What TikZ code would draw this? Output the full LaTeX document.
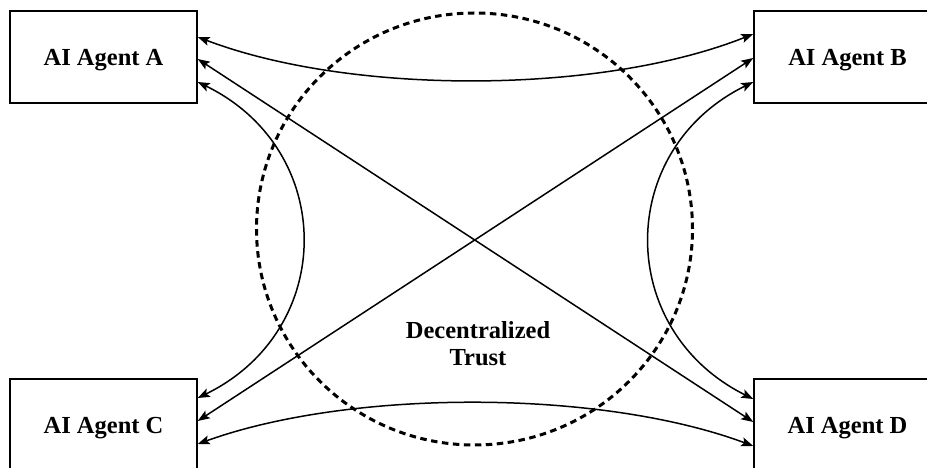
\documentclass[tikz,border=0pt]{standalone}
\usepackage{fontspec}
\setmainfont{Liberation Serif}
\usetikzlibrary{arrows.meta}
\begin{document}
\begin{tikzpicture}[x=1pt,y=1pt,
  agent/.style={draw, line width=1.5pt, minimum width=187pt, minimum height=92pt, inner sep=0pt,
    font=\bfseries\fontsize{24.5}{26.7}\selectfont, text height=17pt, text depth=0pt},
  link/.style={line width=1.5pt, {Stealth[length=12pt,width=9pt,inset=2.5pt]}-{Stealth[length=12pt,width=9pt,inset=2.5pt]}},
  trust/.style={draw, line width=3pt, dash pattern=on 6.5pt off 4.5pt}
]
\useasboundingbox (0,0) rectangle (927,468);
\clip (0,0) rectangle (927,468);
\fill[white] (0,0) rectangle (927,468);
% dashed trust circle
\draw[trust] (474.5,239) ellipse [x radius=218, y radius=216];
\node[font=\bfseries\fontsize{24.5}{26.7}\selectfont, align=center, inner sep=0pt] (T) at (478,124.6) {Decentralized\\Trust};
% agents
\node[agent] (A) at (103.5,411) {AI Agent A};
\node[agent] (B) at (847.5,411) {AI Agent B};
\node[agent] (C) at (103.5,43) {AI Agent C};
\node[agent] (D) at (847.5,43) {AI Agent D};
% connectors
\draw[link] ([yshift=20pt]A.east) .. controls (350,373) and (600,373) .. ([yshift=23pt]B.west);
\draw[link] ([yshift=-2pt]A.east) -- ([yshift=3pt]D.west);
\draw[link] ([yshift=-25pt]A.east) .. controls (337,318) and (337,138) .. ([yshift=27pt]C.east);
\draw[link] ([yshift=-1pt]B.west) -- ([yshift=4pt]C.east);
\draw[link] ([yshift=-25pt]B.west) .. controls (615,318) and (615,138) .. ([yshift=26pt]D.west);
\draw[link] ([yshift=-19pt]C.east) .. controls (350,79) and (600,79) .. ([yshift=-21pt]D.west);
\end{tikzpicture}
\end{document}
